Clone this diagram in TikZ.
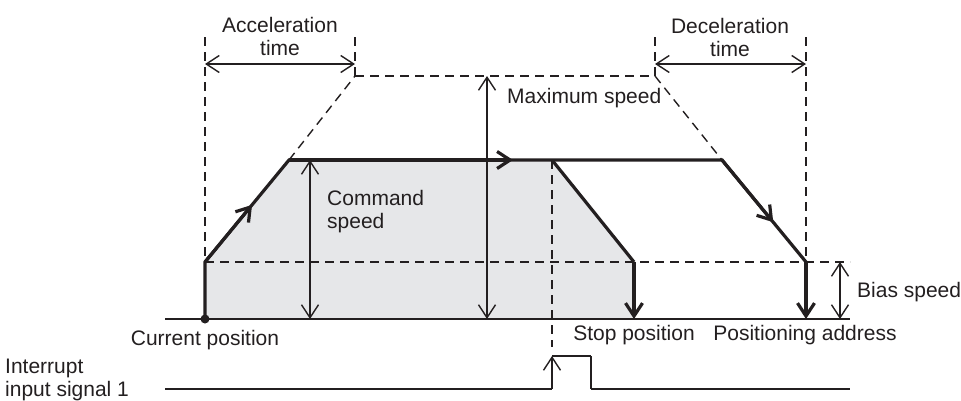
\documentclass[tikz,border=0pt]{standalone}
\usepackage{fontspec}
\setmainfont{Liberation Sans}
\usetikzlibrary{arrows.meta,calc}
\definecolor{inkgray}{RGB}{35,31,32}
\definecolor{areagray}{RGB}{230,231,233}
\tikzset{
	thinline/.style={line width=1.4pt,color=inkgray},
	boldline/.style={line width=3.2pt,color=inkgray},
	dashline/.style={line width=1.4pt,color=inkgray,dash pattern=on 9pt off 6pt},
	txt/.style={inner sep=0pt,text=inkgray,font=\fontsize{21}{23}\selectfont},
	>={Straight Barb[length=13pt,width=17pt]}
}
\begin{document}
\begin{tikzpicture}[x=1pt,y=-1pt]
	\useasboundingbox (0,0) rectangle (961,400);

	\coordinate (cur) at (205,319);
	\coordinate (b0) at (205,262);
	\coordinate (a1) at (289,160);
	\coordinate (irq) at (552,160);
	\coordinate (stopb) at (634,262);
	\coordinate (stop) at (634,319);
	\coordinate (d0) at (722,160);
	\coordinate (posb) at (806,262);
	\coordinate (pos) at (806,319);
	\coordinate (maxL) at (355,76);
	\coordinate (maxR) at (655,76);
	\coordinate (baseL) at (165,319);
	\coordinate (baseR) at (850,319);
	\coordinate (biasR) at (850,262);
	\coordinate (sigL) at (165,389);
	\coordinate (sigR) at (850,389);
	\coordinate (up0) at (552,389);
	\coordinate (up1) at (552,356);
	\coordinate (dn1) at (591,356);
	\coordinate (dn0) at (591,389);

	\fill[areagray] (cur) -- (b0) -- (a1) -- (irq) -- (stopb) -- (stop) -- cycle;

	\node[txt,align=center] at (280,36) (acc) {Acceleration\\time};
	\node[txt,align=center] at (730,37) (dec) {Deceleration\\time};
	\node[txt,anchor=west] at (507,98) (maxspd) {Maximum speed};
	\node[txt,anchor=west,align=left] at (327,212) (cmdspd) {Command\\speed};
	\node[txt,anchor=west] at (857,292) (biasspd) {Bias speed};
	\node[txt] at (205,340) (curpos) {Current position};
	\node[txt] at (634,335) (stoppos) {Stop position};
	\node[txt] at (805,335) (posaddr) {Positioning address};
	\node[txt,anchor=west,align=left] at (5,380) (intsig) {Interrupt\\input signal 1};

	\path[dashline] (205,37) edge (b0)
	(355,37) edge (maxL)
	(655,37) edge (maxR)
	(806,37) edge (posb)
	(a1) edge (maxL)
	(maxL) edge (maxR)
	(maxR) edge (d0)
	(b0) edge (biasR)
	(irq) edge (552,347);

	\path[thinline] (baseL) edge (baseR)
	(sigL) edge (up0)
	(up1) edge (dn1)
	(dn1) edge (dn0)
	(dn0) edge (sigR);
	\path[thinline] (205,64) edge[<->] (355,64)
	(655,64) edge[<->] (806,64)
	(487,76) edge[<->] (487,319)
	(310,160) edge[<->] (310,319)
	(840,262) edge[<->] (840,319)
	(up0) edge[->] (up1);

	\draw[boldline,line join=miter] (cur) -- (b0) -- (a1) -- (d0) -- (posb);
	\draw[boldline] (irq) -- (stopb);
	\path[boldline] (stopb) edge[->] (stop)
	(posb) edge[->] (pos)
	(b0) edge[->] ($(b0)!0.56!(a1)$)
	(a1) edge[->] (513,160)
	(d0) edge[->] ($(d0)!0.61!(posb)$);
	\fill[inkgray] (cur) circle (4.5pt);
\end{tikzpicture}
\end{document}
